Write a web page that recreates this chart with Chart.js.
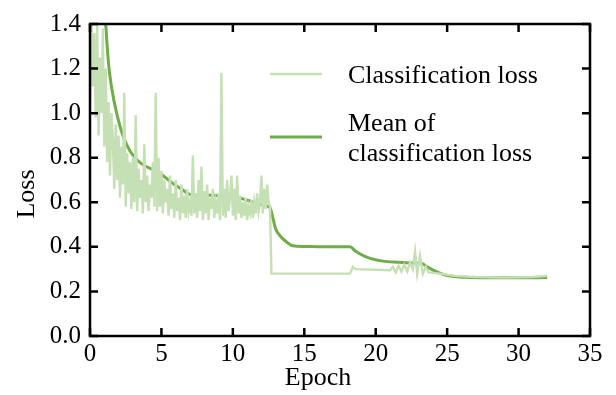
<!DOCTYPE html>
<html>
<head>
<meta charset="utf-8">
<script src="https://cdn.jsdelivr.net/npm/chart.js@4.4.1/dist/chart.umd.min.js"></script>
<style>
  body { margin: 0; background: #fff; }
  #wrap { width: 616px; height: 395px; }
</style>
</head>
<body>
<div id="wrap"><canvas id="c" width="616" height="395"></canvas></div>
<script>
// raw loss, first part sampled every 0.1 epoch from 0 to 12.6
var noisyLoss = [
  1.05, 1.42, 1.12, 1.36, 0.98, 1.40, 0.90, 1.25, 1.00, 1.38,
  0.85, 1.20, 0.78, 1.05, 0.72, 1.00, 0.88, 0.66, 0.95, 0.70,
  0.90, 0.62, 0.85, 0.68, 1.09, 0.58, 0.82, 0.64, 0.78, 0.57,
  0.80, 0.60, 0.99, 0.56, 0.75, 0.62, 0.70, 0.55, 0.86, 0.60,
  0.72, 0.56, 0.68, 0.62, 0.78, 0.58, 1.09, 0.56, 0.80, 0.58,
  0.74, 0.55, 0.70, 0.60, 0.66, 0.54, 0.72, 0.57, 0.64, 0.53,
  0.70, 0.56, 0.62, 0.52, 0.68, 0.55, 0.63, 0.53, 0.66, 0.56,
  0.60, 0.54, 0.81, 0.55, 0.64, 0.53, 0.70, 0.56, 0.76, 0.52,
  0.65, 0.55, 0.68, 0.52, 0.62, 0.57, 0.66, 0.53, 0.60, 0.55,
  0.64, 0.52, 1.18, 0.54, 0.66, 0.53, 0.70, 0.56, 0.62, 0.72,
  0.54, 0.66, 0.52, 0.72, 0.55, 0.63, 0.53, 0.60, 0.54, 0.62,
  0.52, 0.58, 0.55, 0.61, 0.53, 0.60, 0.55, 0.64, 0.56, 0.60,
  0.72, 0.55, 0.66, 0.57, 0.68, 0.60, 0.58
];
// raw loss after the drop
var tailEpochs = [12.7, 18.2, 18.4, 18.6, 21.0, 21.2, 21.4, 21.6, 21.8, 22.0, 22.2, 22.4, 22.6, 22.75, 22.9, 23.1, 23.3, 23.5, 23.7, 24.5, 25.5, 27, 29, 31, 32];
var tailLoss   = [0.28, 0.28, 0.31, 0.30, 0.295, 0.31, 0.285, 0.315, 0.29, 0.32, 0.29, 0.33, 0.30, 0.38, 0.28, 0.36, 0.28, 0.31, 0.285, 0.28, 0.27, 0.265, 0.262, 0.265, 0.27];

var meanEpochs = [0.95, 1.1, 1.3, 1.5, 1.9, 2.3, 2.8, 3.3, 3.8, 4.3, 5.0, 5.5, 6.0, 6.5, 7.0, 7.5, 8.5, 9.5, 10.5, 11.5, 12.2, 12.6, 12.8, 13.0, 13.3, 13.7, 14.2, 15, 17, 18.2, 18.6, 19.2, 19.8, 20.5, 21.5, 22.5, 23.2, 23.6, 24.2, 24.8, 25.5, 26.5, 28, 30, 32];
var meanLoss   = [1.55, 1.40, 1.22, 1.12, 0.99, 0.90, 0.83, 0.79, 0.765, 0.75, 0.725, 0.70, 0.675, 0.655, 0.635, 0.633, 0.632, 0.628, 0.618, 0.60, 0.585, 0.575, 0.53, 0.48, 0.45, 0.425, 0.405, 0.402, 0.40, 0.40, 0.38, 0.358, 0.345, 0.336, 0.331, 0.328, 0.327, 0.31, 0.29, 0.275, 0.267, 0.263, 0.261, 0.261, 0.262];

var xTicks = [0, 5, 10, 15, 20, 25, 30, 35];
var yTicks = [0, 0.2, 0.4, 0.6, 0.8, 1.0, 1.2, 1.4];

var lightGreen = "#c5e0b4";
var darkGreen = "#70ad47";
var serif = "'Liberation Serif', 'Times New Roman', serif";

var rawPts = [];
for (var i = 0; i < noisyLoss.length; i++) {
  rawPts.push({x: i / 10, y: noisyLoss[i]});
}
for (var j = 0; j < tailEpochs.length; j++) {
  rawPts.push({x: tailEpochs[j], y: tailLoss[j]});
}
var meanPts = [];
for (var k = 0; k < meanEpochs.length; k++) {
  meanPts.push({x: meanEpochs[k], y: meanLoss[k]});
}

var frame = {
  id: "frame",
  afterDraw: function(chart) {
    var ctx = chart.ctx, a = chart.chartArea;
    var xs = chart.scales.x, ys = chart.scales.y;
    ctx.save();
    ctx.strokeStyle = "#000";
    ctx.lineWidth = 2.5;
    ctx.strokeRect(a.left, a.top, a.right - a.left, a.bottom - a.top);
    var tl = 8;
    ctx.beginPath();
    xTicks.forEach(function(v) {
      var px = xs.getPixelForValue(v);
      ctx.moveTo(px, a.bottom); ctx.lineTo(px, a.bottom - tl);
      ctx.moveTo(px, a.top); ctx.lineTo(px, a.top + tl);
    });
    yTicks.forEach(function(v) {
      var py = ys.getPixelForValue(v);
      ctx.moveTo(a.left, py); ctx.lineTo(a.left + tl, py);
      ctx.moveTo(a.right, py); ctx.lineTo(a.right - tl, py);
    });
    ctx.stroke();

    // axis titles
    ctx.fillStyle = "#000";
    ctx.font = "26px " + serif;
    ctx.textAlign = "center";
    ctx.textBaseline = "alphabetic";
    ctx.fillText("Epoch", 318, 385);
    ctx.save();
    ctx.translate(34, 194);
    ctx.rotate(-Math.PI / 2);
    ctx.fillText("Loss", 0, 0);
    ctx.restore();

    // legend
    ctx.lineWidth = 2.5;
    ctx.strokeStyle = lightGreen;
    ctx.beginPath(); ctx.moveTo(270, 74); ctx.lineTo(322, 74); ctx.stroke();
    ctx.lineWidth = 3;
    ctx.strokeStyle = darkGreen;
    ctx.beginPath(); ctx.moveTo(270, 137); ctx.lineTo(322, 137); ctx.stroke();
    ctx.textAlign = "left";
    ctx.fillText("Classification loss", 348, 83);
    ctx.fillText("Mean of", 348, 131);
    ctx.fillText("classification loss", 348, 161);
    ctx.restore();
  }
};

new Chart(document.getElementById("c").getContext("2d"), {
  type: "line",
  data: {
    datasets: [
      {label: "Classification loss", data: rawPts, borderColor: lightGreen, borderWidth: 2.4, pointRadius: 0, tension: 0},
      {label: "Mean of classification loss", data: meanPts, borderColor: darkGreen, borderWidth: 3, pointRadius: 0, cubicInterpolationMode: "monotone"}
    ]
  },
  options: {
    responsive: false,
    animation: false,
    events: [],
    layout: {padding: {left: 0, top: 18, right: 26, bottom: 0}},
    plugins: {legend: {display: false}, tooltip: {enabled: false}},
    scales: {
      x: {
        type: "linear", min: 0, max: 35,
        afterFit: function(s) { s.height = 59; },
        afterBuildTicks: function(s) { s.ticks = xTicks.map(function(v) { return {value: v}; }); },
        grid: {display: false, drawTicks: false},
        border: {display: false},
        ticks: {padding: 3, color: "#000", font: {family: serif, size: 25}, maxRotation: 0, callback: function(v) { return v; }}
      },
      y: {
        min: 0, max: 1.4,
        afterFit: function(s) { s.width = 90; },
        afterBuildTicks: function(s) { s.ticks = yTicks.map(function(v) { return {value: v}; }); },
        grid: {display: false, drawTicks: false},
        border: {display: false},
        ticks: {padding: 9, color: "#000", font: {family: serif, size: 25}, callback: function(v) { return v.toFixed(1); }}
      }
    }
  },
  plugins: [frame]
});
</script>
</body>
</html>
